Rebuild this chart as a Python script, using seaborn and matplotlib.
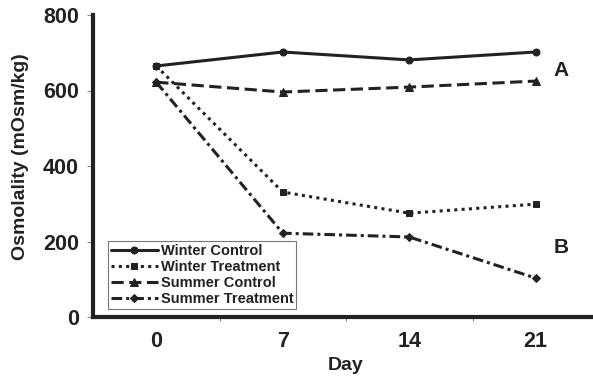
import matplotlib
matplotlib.use("Agg")
import matplotlib.pyplot as plt
import seaborn as sns
import pandas as pd

# Sampling days (categorical axis)
days = ["0", "7", "14", "21"]

# Osmolality (mOsm/kg) per group
winter_control = [665, 702, 681, 702]
winter_treatment = [665, 331, 275, 299]
summer_control = [622, 596, 609, 625]
summer_treatment = [622, 222, 212, 103]

y_ticks = [0, 200, 400, 600, 800]

sns.set_theme(style="white")
plt.rcParams["font.family"] = ["Liberation Sans", "DejaVu Sans"]
plt.rcParams["font.weight"] = "bold"

ink = "#222222"

fig = plt.figure(figsize=(5.93, 3.76), dpi=100)
ax = fig.add_axes([93 / 593, 1 - 317 / 376, 506 / 593, 302 / 376])

series = [
    ("Winter Control", winter_control, dict(linestyle="-", marker="o", markersize=5)),
    ("Winter Treatment", winter_treatment, dict(linestyle=(0, (1, 1.4)), marker="s", markersize=5)),
    ("Summer Control", summer_control, dict(linestyle=(0, (4, 1.8)), marker="^", markersize=5.5)),
    ("Summer Treatment", summer_treatment, dict(linestyle=(0, (3.5, 1.3, 1, 1.3)), marker="D", markersize=3.8)),
]

xpos = list(range(len(days)))
for name, vals, style in series:
    df = pd.DataFrame({"x": xpos, "y": vals})
    sns.lineplot(data=df, x="x", y="y", ax=ax, color=ink, linewidth=2.2,
                 markeredgecolor=ink, markerfacecolor=ink, label=name, **style)

ax.set_xlim(-0.5, 3.5)
ax.set_ylim(0, 800)
ax.set_xticks(xpos)
ax.set_xticklabels(days)
ax.set_xticks([0.5, 1.5, 2.5], minor=True)
ax.set_yticks(y_ticks)
ax.tick_params(axis="x", which="major", length=0, pad=10, labelsize=15.5, colors=ink)
ax.tick_params(axis="x", which="minor", length=3, width=0.8, color="#888888", direction="out", bottom=True)
ax.tick_params(axis="y", which="major", length=4, width=0.8, color="#888888", direction="out",
               left=True, pad=6, labelsize=15.5, labelcolor=ink)
for lab in ax.get_xticklabels() + ax.get_yticklabels():
    lab.set_fontweight("bold")

for side in ("top", "right"):
    ax.spines[side].set_visible(False)
for side in ("left", "bottom"):
    ax.spines[side].set_linewidth(3)
    ax.spines[side].set_color(ink)

ax.set_xlabel("Day", fontsize=14, fontweight="bold", color=ink, labelpad=4)
ax.set_ylabel("Osmolality (mOsm/kg)", fontsize=14, fontweight="bold", color=ink)
ax.yaxis.set_label_coords(-0.126, 0.53)

ax.text(3.2, 654, "A", fontsize=15, fontweight="bold", color=ink, ha="center", va="center")
ax.text(3.2, 185, "B", fontsize=15, fontweight="bold", color=ink, ha="center", va="center")

leg = ax.legend(loc="lower left", bbox_to_anchor=(0.03, 0.026), fontsize=10.5, frameon=True,
                fancybox=False, edgecolor="#555555", handlelength=3.2, handletextpad=0.2,
                labelspacing=0.15, borderpad=0.2, borderaxespad=0)
leg.get_frame().set_linewidth(0.8)
for t in leg.get_texts():
    t.set_fontweight("bold")
    t.set_color(ink)

fig.savefig("out.png", dpi=100)
